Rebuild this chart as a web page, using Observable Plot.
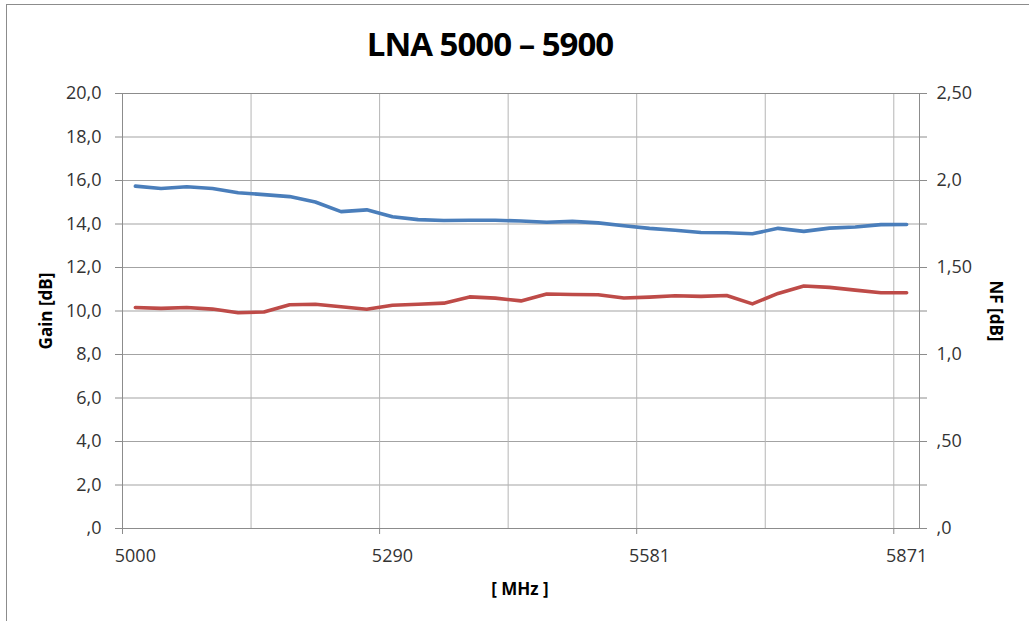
<!DOCTYPE html>
<html>
<head>
<meta charset="utf-8">
<script src="https://cdn.jsdelivr.net/npm/d3@7"></script>
<script src="https://cdn.jsdelivr.net/npm/@observablehq/plot@0.6"></script>
<style>
html, body { margin: 0; padding: 0; background: #fff; }
#wrap { position: relative; width: 1029px; height: 621px; overflow: hidden; font-family: "Open Sans", sans-serif; }
#border { position: absolute; left: 6px; top: 4px; width: 1200px; height: 800px; border: 1px solid #8c8c8c; box-sizing: border-box; }
#chart { position: absolute; left: 0; top: 0; }
.t { position: absolute; white-space: nowrap; line-height: 1; color: #000; font-weight: 700; }
#title { left: 0; width: 980px; top: 27px; text-align: center; font-size: 33px; letter-spacing: -1px; }
#ylab { left: 45px; top: 311px; font-size: 17px; transform: translate(-50%, -50%) rotate(-90deg); }
#y2lab { left: 996px; top: 311px; font-size: 17px; transform: translate(-50%, -50%) rotate(90deg); }
#xlab { left: 520px; top: 588px; font-size: 17px; transform: translate(-50%, -50%); }
</style>
</head>
<body>
<div id="wrap">
  <div id="border"></div>
  <div id="chart"></div>
  <div class="t" id="title">LNA 5000 – 5900</div>
  <div class="t" id="ylab">Gain [dB]</div>
  <div class="t" id="y2lab">NF [dB]</div>
  <div class="t" id="xlab">[ MHz ]</div>
</div>
<script>
// Category labels (MHz)
const categories = [5000, 5029, 5058, 5087, 5116, 5145, 5174, 5203, 5232, 5261,
  5290, 5319, 5348, 5377, 5406, 5435, 5465, 5494, 5523, 5552,
  5581, 5610, 5639, 5668, 5697, 5726, 5755, 5784, 5813, 5842, 5871];

// Gain [dB] (left axis)
const gain = [15.74, 15.63, 15.71, 15.63, 15.44, 15.35, 15.26, 15.01, 14.57, 14.65,
  14.33, 14.20, 14.16, 14.17, 14.17, 14.14, 14.08, 14.12, 14.05, 13.92,
  13.80, 13.71, 13.61, 13.60, 13.55, 13.80, 13.66, 13.81, 13.86, 13.97, 13.98];

// NF [dB] (right axis)
const nf = [1.270, 1.265, 1.270, 1.261, 1.240, 1.244, 1.286, 1.289, 1.274, 1.260,
  1.283, 1.289, 1.295, 1.331, 1.324, 1.308, 1.348, 1.345, 1.343, 1.325,
  1.330, 1.338, 1.334, 1.339, 1.291, 1.351, 1.394, 1.386, 1.370, 1.355, 1.355];

// Axis ticks and labels
const gainTicks = [0, 2, 4, 6, 8, 10, 12, 14, 16, 18, 20];
const gainTickLabels = [",0", "2,0", "4,0", "6,0", "8,0", "10,0", "12,0", "14,0", "16,0", "18,0", "20,0"];
const nfTicks = [0, 0.5, 1, 1.5, 2, 2.5];
const nfTickLabels = [",0", ",50", "1,0", "1,50", "2,0", "2,50"];
const xLabelIndex = [0, 10, 20, 30];
const gridEvery = 5;

const gainMax = gainTicks[gainTicks.length - 1];
const nfMax = nfTicks[nfTicks.length - 1];
const ratio = gainMax / nfMax;

const rows = categories.map((f, i) => ({i, f, gain: gain[i], nf: nf[i]}));
const n = categories.length;
const boundaries = d3.range(0, n + 1, gridEvery).map(i => i - 0.5).concat([n - 0.5]);
const labelTickPos = xLabelIndex.map(i => i - 0.5);

const gainLabel = new Map(gainTicks.map((t, i) => [t, gainTickLabels[i]]));
const nfLabel = new Map(nfTicks.map((t, i) => [t * ratio, nfTickLabels[i]]));

const grid = "#a3a3a3";
const axisCol = "#8c8c8c";
const textCol = "#333333";

const chart = Plot.plot({
  width: 1029,
  height: 621,
  marginLeft: 122,
  marginRight: 110,
  marginTop: 93,
  marginBottom: 93,
  style: {fontFamily: "Open Sans, sans-serif", fontSize: "18px", background: "transparent"},
  x: {type: "linear", domain: [-0.5, n - 0.5]},
  y: {domain: [0, gainMax]},
  marks: [
    Plot.gridY(gainTicks, {stroke: grid, strokeOpacity: 1}),
    Plot.gridX(boundaries, {stroke: "#b5b5b5", strokeOpacity: 1}),
    Plot.frame({stroke: axisCol}),
    Plot.axisY(gainTicks, {anchor: "left", tickSize: 7, tickPadding: 14, stroke: axisCol, fill: textCol,
      tickFormat: d => gainLabel.get(d), label: null}),
    Plot.axisY(gainTicks, {anchor: "right", tickSize: 7, stroke: axisCol, fill: "none", label: null}),
    Plot.axisY(nfTicks.map(t => t * ratio), {anchor: "right", tickSize: 0, tickPadding: 17, fill: textCol,
      tickFormat: d => nfLabel.get(d), label: null}),
    Plot.axisX(xLabelIndex, {anchor: "bottom", tickSize: 0, tickPadding: 21, fill: textCol,
      tickFormat: i => String(categories[i]), label: null}),
    Plot.axisX(labelTickPos, {anchor: "bottom", tickSize: 6, stroke: axisCol, fill: "none", label: null}),
    Plot.line(rows, {x: "i", y: "gain", stroke: "#4a7ebb", strokeWidth: 3.6, strokeLinejoin: "round", strokeLinecap: "round"}),
    Plot.line(rows, {x: "i", y: d => d.nf * ratio, stroke: "#be4b48", strokeWidth: 3.6, strokeLinejoin: "round", strokeLinecap: "round"})
  ]
});
document.getElementById("chart").appendChild(chart);
</script>
</body>
</html>
